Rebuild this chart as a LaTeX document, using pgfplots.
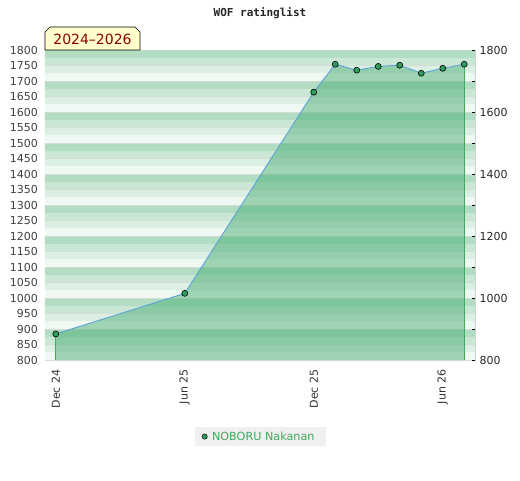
\documentclass[border=0pt]{standalone}
\usepackage{pgfplots}
\pgfplotsset{compat=1.18}
\usepackage{pgfplotstable}
\usepackage{fontspec}
\setmainfont{DejaVu Sans}
\setmonofont{DejaVu Sans Mono}
\definecolor{sA}{HTML}{B2DDC2}
\definecolor{sB}{HTML}{C9E7D4}
\definecolor{sC}{HTML}{DCEFE3}
\definecolor{sD}{HTML}{EFF8F2}
\definecolor{fillg}{HTML}{3DA86A}
\definecolor{vline}{HTML}{3DAA5C}
\definecolor{lineb}{HTML}{5BA3D9}
\definecolor{markg}{HTML}{2F9E5C}
\definecolor{legg}{HTML}{3DAA5C}
\definecolor{sep}{HTML}{D3DCD6}
\definecolor{yearred}{HTML}{8B0000}
\definecolor{yearbg}{HTML}{FFFFCC}

\pgfplotstableread{
m r
0 884
6 1015
12 1664
13 1754
14 1735
15 1747
16 1751
17 1725
18 1741
19 1754
}\ratings

\begin{document}
\begin{tikzpicture}
\path[use as bounding box] (0,0) rectangle (520pt,480pt);
\begin{axis}[
  at={(45pt,120pt)}, anchor=south west,
  scale only axis, width=430pt, height=310pt,
  xmin=-0.5, xmax=19.5, ymin=800, ymax=1800,
  xtick={0,6,12,18}, xticklabels={Dec 24,Jun 25,Dec 25,Jun 26},
  x tick label style={rotate=90, anchor=east, xshift=-6pt, font=\fontsize{11}{13}\selectfont, text=black!80},
  ytick={800,850,...,1800},
  y tick label style={xshift=-3.5pt, font=\fontsize{11}{13}\selectfont, text=black!75},
  /pgf/number format/assume math mode=true,
  /pgf/number format/1000 sep={},
  major tick length=0pt,
  axis line style={draw=black!18, line width=0.8pt},
  legend style={at={(0.501,-0.247)}, anchor=center, fill=black!6, draw=none,
    font=\fontsize{11.2}{13}\selectfont, inner xsep=7pt, inner ysep=2.5pt},
  legend image code/.code={\draw[fill=markg, draw=black, line width=0.5pt] (2.6pt,0pt) circle (2.6pt);},
  legend style={nodes={inner xsep=4.5pt}},
]
\pgfplotsforeachungrouped \k in {800,900,...,1700}{
  \pgfmathtruncatemacro\ka{\k+25}
  \pgfmathtruncatemacro\kb{\k+50}
  \pgfmathtruncatemacro\kc{\k+75}
  \pgfmathtruncatemacro\kd{\k+100}
  \edef\temp{\noexpand\addplot[draw=none,fill=sD,forget plot] coordinates {(-1,\k) (20,\k) (20,\ka) (-1,\ka)} --cycle;
    \noexpand\addplot[draw=none,fill=sC,forget plot] coordinates {(-1,\ka) (20,\ka) (20,\kb) (-1,\kb)} --cycle;
    \noexpand\addplot[draw=none,fill=sB,forget plot] coordinates {(-1,\kb) (20,\kb) (20,\kc) (-1,\kc)} --cycle;
    \noexpand\addplot[draw=none,fill=sA,forget plot] coordinates {(-1,\kc) (20,\kc) (20,\kd) (-1,\kd)} --cycle;
    \noexpand\addplot[sep,line width=0.6pt,forget plot] coordinates {(-1,\k) (20,\k)};
    \noexpand\addplot[sep,line width=0.4pt,forget plot] coordinates {(-1,\kb) (20,\kb)};
  }
  \temp
}
\addplot[draw=none, fill=fillg, fill opacity=0.45, forget plot] table[x=m,y=r]{\ratings} \closedcycle;
\addplot[vline, line width=0.8pt, forget plot] coordinates {(0,800) (0,884)};
\addplot[vline, line width=0.8pt, forget plot] coordinates {(19,800) (19,1754)};
\addplot[lineb, line width=0.9pt, mark=*, mark size=3pt,
  mark options={fill=markg, draw=black, line width=0.6pt}, forget plot] table[x=m,y=r]{\ratings};
\addlegendimage{only marks, mark=*}
\addlegendentry{\textcolor{legg}{NOBORU Nakanan}}
\end{axis}
\begin{axis}[
  at={(45pt,120pt)}, anchor=south west,
  scale only axis, width=430pt, height=310pt,
  xmin=-0.5, xmax=19.5, ymin=800, ymax=1800,
  axis x line=none, axis y line*=right,
  ytick={800,900,...,1800}, yticklabels={800,,1000,,1200,,1400,,1600,,1800},
  y tick label style={xshift=1pt, font=\fontsize{11}{13}\selectfont, text=black!85},
  /pgf/number format/assume math mode=true,
  tick align=inside, major tick length=3pt,
  tick style={black, line width=0.6pt},
  axis line style={draw=black!18, line width=0.8pt},
]
\addplot[draw=none] coordinates {(0,800)};
\end{axis}
\draw[fill=yearbg, draw=black, line width=0.7pt] (45pt,430pt) -- (45pt,448pt) -- (50pt,453pt) -- (135pt,453pt) -- (140pt,448pt) -- (140pt,430pt) -- cycle;
\node[font=\fontsize{14}{16}\selectfont, text=yearred] at (92.5pt,440.5pt) {2024–2026};
\node[font=\ttfamily\bfseries\fontsize{11}{13}\selectfont, text=black!85] at (260pt,467pt) {WOF ratinglist};
\end{tikzpicture}
\end{document}
